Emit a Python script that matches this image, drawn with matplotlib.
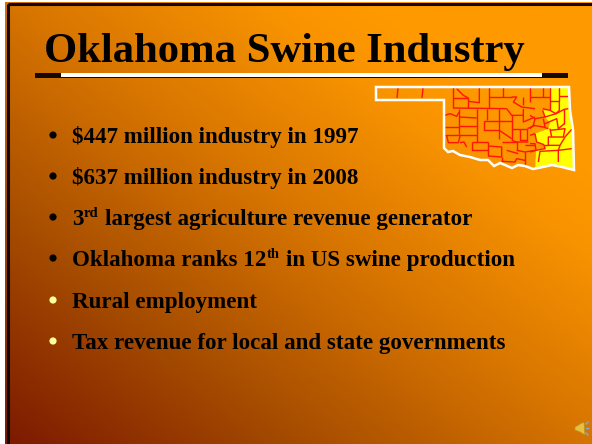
import numpy as np
import matplotlib
matplotlib.use("Agg")
import matplotlib.pyplot as plt
from matplotlib.colors import LinearSegmentedColormap
from matplotlib.patches import Polygon, Rectangle, Circle

W, H = 592, 444

title = "Oklahoma Swine Industry"
bullets = [
    [("$447 million industry in 1997", False)],
    [("$637 million industry in 2008", False)],
    [("3", False), ("rd", True), (" largest agriculture revenue generator", False)],
    [("Oklahoma ranks 12", False), ("th", True), (" in US swine production", False)],
    [("Rural employment", False)],
    [("Tax revenue for local and state governments", False)],
]
bullet_y = [135, 176, 217, 258, 300, 341]
bullet_colors = ["black", "black", "black", "black", "#ffff99", "#ffff99"]

# map outline, in pixels
outline = [(376, 87), (569, 87), (570, 110), (573, 130), (574, 170), (562, 167), (552, 165),
           (543, 167), (533, 169), (525, 166), (518, 165), (512, 168), (505, 165), (500, 163),
           (494, 166), (488, 160), (480, 160), (470, 157), (460, 155), (453, 151), (448, 152),
           (444, 148), (444, 100), (376, 100)]
panhandle_lines = [[(398, 88), (397, 98)], [(423, 88), (422, 98)]]

# yellow counties, crop coords (3x, origin 530,82), clipped to the outline when drawn
yellow = [(62, 10), (125, 10), (135, 115), (140, 280), (15, 280), (18, 205), (45, 200), (42, 188),
          (20, 180), (15, 155), (55, 140), (60, 122), (45, 105), (38, 85), (60, 85)]
east_lines = [
    [(38, 15), (38, 45), (60, 45)], [(0, 45), (38, 45)], [(60, 15), (60, 85)],
    [(60, 58), (88, 58), (88, 15)], [(88, 42), (115, 42)], [(88, 58), (88, 85), (78, 95), (45, 105)],
    [(38, 80), (60, 85), (78, 95), (103, 82), (115, 80)], [(103, 82), (103, 125)],
    [(38, 85), (45, 105), (15, 110), (10, 130), (40, 135), (55, 140)], [(40, 110), (45, 135)],
    [(45, 125), (80, 110), (85, 140), (103, 125)],
    [(60, 145), (105, 140), (100, 165), (55, 165), (55, 190), (90, 190), (105, 165), (125, 142)],
    [(55, 190), (42, 190)], [(90, 190), (85, 205), (125, 200)], [(60, 140), (65, 165)],
    [(15, 155), (0, 160)], [(0, 185), (15, 185), (18, 205), (0, 210)], [(18, 205), (45, 200), (42, 188)],
    [(25, 240), (30, 208), (85, 205), (85, 240)], [(15, 155), (20, 180), (42, 188)],
    [(0, 100), (15, 110)], [(0, 140), (10, 130)],
]

# western counties, crop coords (3x, origin 440,82)
west_lines = [
    [(50, 20), (70, 40), (85, 48)], [(40, 15), (40, 78)], [(40, 48), (85, 48), (85, 78)],
    [(85, 58), (118, 62), (118, 15)], [(147, 15), (147, 78)], [(190, 15), (190, 45)],
    [(147, 45), (215, 45)], [(40, 78), (200, 80)], [(57, 80), (57, 160)], [(110, 80), (110, 180)],
    [(140, 80), (140, 115)], [(178, 80), (178, 170)], [(215, 100), (215, 175)],
    [(15, 100), (30, 95), (50, 103), (57, 90)], [(15, 135), (57, 135)], [(57, 105), (110, 108)],
    [(57, 132), (110, 132)], [(57, 160), (110, 160)], [(15, 160), (57, 160)],
    [(20, 160), (25, 182), (55, 182), (60, 162)], [(60, 182), (72, 180), (80, 195)],
    [(95, 180), (145, 180)], [(95, 180), (95, 205), (145, 205)],
    [(133, 118), (215, 118)], [(133, 118), (133, 145), (178, 145)], [(178, 145), (215, 170)],
    [(215, 140), (262, 140)], [(240, 140), (240, 175), (262, 175), (262, 140)],
    [(145, 180), (145, 222)], [(145, 192), (185, 195), (185, 225), (145, 222)],
    [(185, 180), (230, 180), (230, 205)], [(200, 205), (235, 215)], [(215, 175), (230, 180), (265, 180)],
    [(185, 238), (225, 240), (230, 230), (255, 235)], [(185, 225), (185, 238)],
    [(255, 190), (285, 190)], [(285, 105), (250, 120), (250, 80)],
    [(200, 80), (215, 100), (250, 100)], [(215, 45), (230, 45), (220, 60), (245, 75), (285, 80)],
    [(250, 45), (250, 70)], [(255, 210), (255, 250)], [(230, 205), (255, 210), (285, 205)],
    [(270, 15), (270, 60)], [(262, 140), (285, 130)],
]


def to_px(pts, x0, y0):
    return [(x0 + x / 3, y0 + y / 3) for x, y in pts]


fig = plt.figure(figsize=(W / 100, H / 100), dpi=100, facecolor="white")
ax = fig.add_axes([0, 0, 1, 1])

# background gradient, dark bottom left to orange top right
xx, yy = np.meshgrid(np.linspace(0, 1, 296), np.linspace(0, 1, 222))
t = np.clip((xx * 0.62 + (1 - yy) * 0.62), 0, 1)
cmap = LinearSegmentedColormap.from_list(
    "slide", [(0, "#7c1a00"), (0.3, "#a34a00"), (0.62, "#d67400"), (0.9, "#f99400"), (1, "#ff9900")])
ax.imshow(t, cmap=cmap, vmin=0, vmax=1, extent=(5, W, H, 3), aspect="auto", zorder=0)
ax.set_xlim(0, W)
ax.set_ylim(H, 0)
ax.axis("off")

# slide frame
ax.add_patch(Rectangle((7.5, 4.5), W, H, fill=False, ec="#100800", lw=2.2, zorder=1))

ax.text(44, 62, title, family="Liberation Serif", weight="bold", fontsize=30.7, color="black",
        va="baseline", zorder=3)

# rule under the title
ax.add_patch(Rectangle((35, 73), 533, 5, fc="#140a00", ec="none", zorder=2))
ax.add_patch(Rectangle((61, 73.5), 481, 4, fc="white", ec="none", zorder=3))

# map
state = Polygon(outline, closed=True, fill=False, ec="white", lw=1.8, zorder=5, joinstyle="miter")
ax.add_patch(state)
fill = Polygon(to_px(yellow, 530, 82), closed=True, fc="#ffff00", ec="none", zorder=3)
ax.add_patch(fill)
fill.set_clip_path(state.get_path(), state.get_transform())
for group, x0 in ((west_lines, 440), (east_lines, 530)):
    for line in group:
        pts = to_px(line, x0, 82)
        ax.plot([p[0] for p in pts], [p[1] for p in pts], color="#ff1500", lw=1.0, zorder=4,
                solid_capstyle="butt")
for line in panhandle_lines:
    ax.plot([p[0] for p in line], [p[1] for p in line], color="#ff1500", lw=1.0, zorder=4,
            solid_capstyle="butt")

# bullets, each run measured so superscripts sit right
fig.canvas.draw()
rend = fig.canvas.get_renderer()
for runs, y, col in zip(bullets, bullet_y, bullet_colors):
    ax.add_patch(Circle((53, y), 3.6, fc=col, ec="none", zorder=3))
    x = 72
    for txt, sup in runs:
        size = 10.5 if sup else 16.6
        base = y + 7.5 - (8 if sup else 0)
        stripped = txt.lstrip(" ")
        if stripped != txt:
            x += size * 0.25 * 100 / 72
        part = ax.text(x, base, stripped, family="Liberation Serif", weight="bold", fontsize=size,
                       color="black", va="baseline", zorder=3)
        x = part.get_window_extent(rend).x1 + 0.5

# speaker icon
ax.add_patch(Polygon([(575, 427), (580, 424), (584, 422), (585, 435), (580, 432), (575, 430)],
                     closed=True, fc="#e8c040", ec="#b89020", lw=0.5, zorder=3))
ax.plot([586, 588], [424, 422], color="#80a8e0", lw=1, zorder=3)
ax.plot([586, 588], [428, 428], color="#80a8e0", lw=1, zorder=3)
ax.plot([586, 588], [433, 435], color="#80a8e0", lw=1, zorder=3)

fig.savefig("out.png", dpi=100)
